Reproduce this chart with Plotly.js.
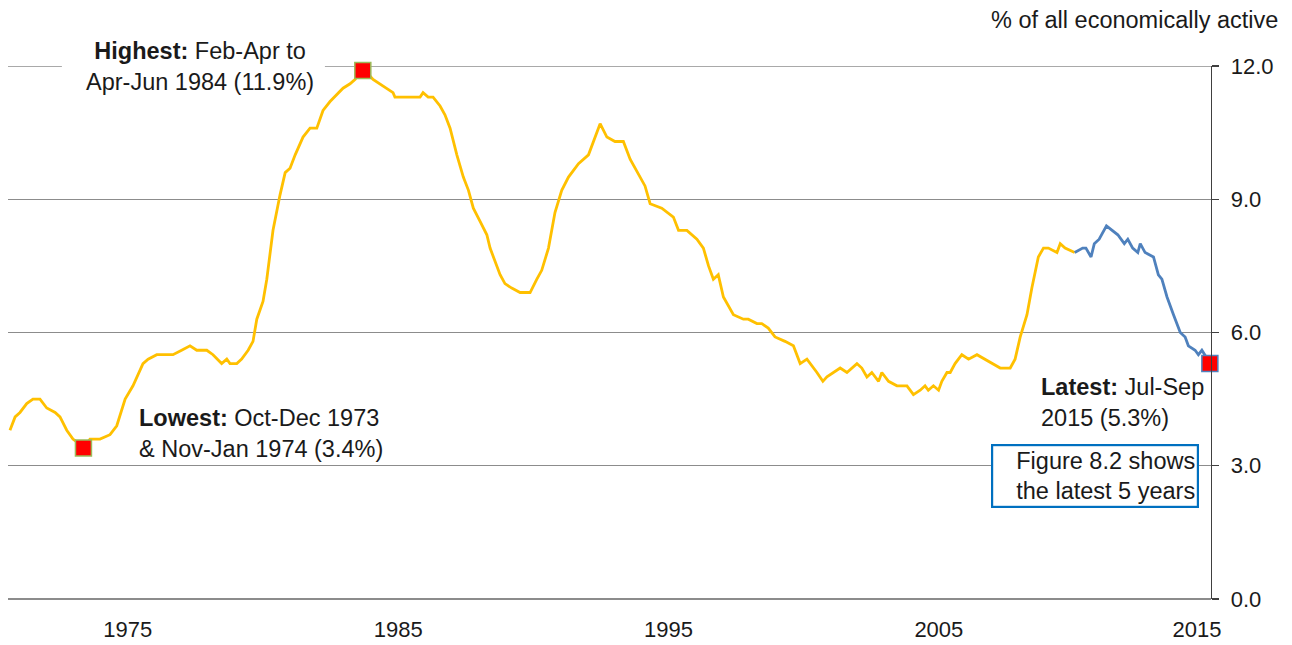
<!DOCTYPE html>
<html>
<head>
<meta charset="utf-8">
<script src="https://cdn.plot.ly/plotly-3.0.1.min.js"></script>
<style>
  html, body { margin: 0; padding: 0; background: #ffffff; }
  #chart { width: 1292px; height: 645px; }
</style>
</head>
<body>
<div id="chart"></div>
<script>
// ---- Data ----
// Decimal years (mid-month of the rolling 3-month period)
var histYears = [
  1971.24, 1971.43, 1971.61, 1971.86, 1972.09, 1972.35, 1972.60, 1972.91, 1973.09, 1973.34,
  1973.57, 1973.79, 1973.875, 1973.958, 1974.20, 1974.57, 1974.94, 1975.19, 1975.50, 1975.79,
  1976.16, 1976.35, 1976.67, 1977.27, 1977.59, 1977.90, 1978.15, 1978.52, 1978.75, 1979.07,
  1979.26, 1979.38, 1979.63, 1979.81, 1980.05, 1980.23, 1980.37, 1980.60, 1980.74, 1980.97,
  1981.23, 1981.42, 1981.60, 1981.79, 1982.08, 1982.34, 1982.59, 1982.82, 1983.08, 1983.38,
  1983.56, 1983.82, 1984.01, 1984.208, 1984.292, 1984.375, 1984.67, 1984.93, 1985.18, 1985.41,
  1985.48, 1986.41, 1986.52, 1986.71, 1986.89, 1987.15, 1987.33, 1987.52, 1987.77, 1988.01,
  1988.20, 1988.38, 1988.63, 1988.88, 1989.00, 1989.37, 1989.55, 1989.80, 1990.11, 1990.48,
  1990.73, 1990.91, 1991.16, 1991.40, 1991.65, 1991.90, 1992.27, 1992.64, 1993.07, 1993.32,
  1993.62, 1993.93, 1994.18, 1994.55, 1994.73, 1994.92, 1995.35, 1995.78, 1995.97, 1996.28,
  1996.65, 1996.89, 1997.08, 1997.26, 1997.44, 1997.63, 1998.00, 1998.37, 1998.55, 1998.87,
  1999.05, 1999.29, 1999.54, 1999.91, 2000.22, 2000.47, 2000.72, 2001.09, 2001.31, 2001.46,
  2001.70, 2001.95, 2002.20, 2002.57, 2002.75, 2002.94, 2003.12, 2003.37, 2003.49, 2003.74,
  2004.05, 2004.42, 2004.66, 2004.91, 2005.09, 2005.21, 2005.40, 2005.59, 2005.71, 2005.90,
  2006.02, 2006.20, 2006.45, 2006.70, 2007.01, 2007.31, 2007.62, 2007.87, 2008.05, 2008.24,
  2008.42, 2008.61, 2008.86, 2009.04, 2009.28, 2009.47, 2009.65, 2009.97, 2010.09, 2010.27,
  2010.625
];
var histRate = [
  3.8, 4.1, 4.2, 4.4, 4.5, 4.5, 4.3, 4.2, 4.1, 3.8,
  3.6, 3.5, 3.4, 3.4, 3.6, 3.6, 3.7, 3.9, 4.5, 4.8,
  5.3, 5.4, 5.5, 5.5, 5.6, 5.7, 5.6, 5.6, 5.5, 5.3,
  5.4, 5.3, 5.3, 5.4, 5.6, 5.8, 6.3, 6.7, 7.2, 8.3,
  9.1, 9.6, 9.7, 10.0, 10.4, 10.6, 10.6, 11.0, 11.2, 11.4,
  11.5, 11.6, 11.7, 11.9, 11.9, 11.9, 11.7, 11.6, 11.5, 11.4,
  11.3, 11.3, 11.4, 11.3, 11.3, 11.1, 10.9, 10.6, 10.0, 9.5,
  9.2, 8.8, 8.5, 8.2, 7.9, 7.3, 7.1, 7.0, 6.9, 6.9,
  7.2, 7.4, 7.9, 8.7, 9.2, 9.5, 9.8, 10.0, 10.7, 10.4,
  10.3, 10.3, 9.9, 9.5, 9.3, 8.9, 8.8, 8.6, 8.3, 8.3,
  8.1, 7.9, 7.5, 7.2, 7.3, 6.8, 6.4, 6.3, 6.3, 6.2,
  6.2, 6.1, 5.9, 5.8, 5.7, 5.3, 5.4, 5.1, 4.9, 5.0,
  5.1, 5.2, 5.1, 5.3, 5.2, 5.0, 5.1, 4.9, 5.1, 4.9,
  4.8, 4.8, 4.6, 4.7, 4.8, 4.7, 4.8, 4.7, 4.9, 5.1,
  5.1, 5.3, 5.5, 5.4, 5.5, 5.4, 5.3, 5.2, 5.2, 5.2,
  5.4, 5.9, 6.4, 7.0, 7.7, 7.9, 7.9, 7.8, 8.0, 7.9,
  7.8
];
var recentYears = [
  2010.625, 2010.92, 2011.04, 2011.23, 2011.35, 2011.53, 2011.80, 2012.03, 2012.22, 2012.46,
  2012.59, 2012.77, 2012.96, 2013.05, 2013.23, 2013.54, 2013.72, 2013.85, 2014.04, 2014.28,
  2014.53, 2014.71, 2014.83, 2015.08, 2015.20, 2015.33, 2015.45, 2015.54, 2015.625
];
var recentRate = [
  7.8, 7.9, 7.9, 7.7, 8.0, 8.1, 8.4, 8.3, 8.2, 8.0,
  8.1, 7.9, 7.8, 8.0, 7.8, 7.7, 7.3, 7.2, 6.8, 6.4,
  6.0, 5.9, 5.7, 5.6, 5.5, 5.6, 5.5, 5.4, 5.3
];
// Highlighted points: lowest, highest, latest
var pointYears = [1973.958, 1984.292, 2015.625];
var pointRate = [3.4, 11.9, 5.3];

var tickYears = [1975.6, 1985.6, 1995.6, 2005.6, 2015.15];
var tickLabels = ['1975', '1985', '1995', '2005', '2015'];
var yTicks = [0, 3, 6, 9, 12];
var yMax = 12;

var FONT = 'Liberation Sans, Arial, sans-serif';
var TXT = '#1a1a1a';
var GRID = '#8c8c8c';
var ANN = 23.5;

var traces = [
  { x: histYears, y: histRate, type: 'scatter', mode: 'lines',
    line: { color: '#FFC000', width: 2.8 }, hoverinfo: 'skip' },
  { x: recentYears, y: recentRate, type: 'scatter', mode: 'lines',
    line: { color: '#4F81BD', width: 2.8 }, hoverinfo: 'skip' },
  { x: pointYears, y: pointRate, type: 'scatter', mode: 'markers', cliponaxis: false,
    marker: { symbol: 'square', size: 16, color: '#FF0000',
      line: { color: ['#9BBB59', '#9BBB59', '#4F81BD'], width: 1.5 } }, hoverinfo: 'skip' }
];

var layout = {
  width: 1292, height: 645,
  margin: { l: 8, r: 81, t: 66, b: 46 },
  paper_bgcolor: '#ffffff', plot_bgcolor: '#ffffff',
  showlegend: false,
  font: { family: FONT, size: 22, color: TXT },
  xaxis: {
    range: [1971.167, 2015.667], showgrid: false, zeroline: false, showline: false,
    ticks: '', tickmode: 'array', tickvals: tickYears, ticktext: tickLabels,
    ticklabelstandoff: 15,
    tickfont: { family: FONT, size: 22, color: TXT }
  },
  yaxis: {
    side: 'right', range: [0, yMax], tickmode: 'array', tickvals: yTicks, tickformat: '.1f',
    showgrid: true, gridcolor: GRID, gridwidth: 1.3,
    zeroline: true, zerolinecolor: GRID, zerolinewidth: 1.3,
    showline: true, linecolor: '#404040', linewidth: 1.3,
    ticks: 'outside', ticklen: 7, tickcolor: '#404040', tickwidth: 1.3,
    ticklabelstandoff: 7,
    tickfont: { family: FONT, size: 22, color: TXT }
  },
  shapes: [
    // top gridline (at the end of the range)
    { type: 'line', xref: 'paper', yref: 'y', layer: 'below',
      x0: 0, x1: 1, y0: yMax, y1: yMax, line: { color: GRID, width: 1.3 } },
    // white gap behind the "Highest" label
    { type: 'rect', xref: 'x', yref: 'y', layer: 'between',
      x0: 1973.16, x1: 1982.89, y0: 11.85, y1: 12.15,
      fillcolor: '#ffffff', line: { width: 0 } }
  ],
  annotations: [
    { xref: 'paper', yref: 'paper', x: 1.0574, y: 1.0865, xanchor: 'right', yanchor: 'middle',
      text: '% of all economically active', showarrow: false,
      font: { family: FONT, size: ANN, color: TXT } },
    { xref: 'x', yref: 'y', x: 1978.27, y: 11.98, xanchor: 'center', yanchor: 'middle',
      align: 'center', showarrow: false,
      text: '<b>Highest:</b> Feb-Apr to<br>Apr-Jun 1984 (11.9%)',
      font: { family: FONT, size: ANN, color: TXT } },
    { xref: 'x', yref: 'y', x: 1975.95, y: 3.72, xanchor: 'left', yanchor: 'middle',
      align: 'left', showarrow: false,
      text: '<b>Lowest:</b> Oct-Dec 1973<br>&amp; Nov-Jan 1974 (3.4%)',
      font: { family: FONT, size: ANN, color: TXT } },
    { xref: 'x', yref: 'y', x: 2009.31, y: 4.42, xanchor: 'left', yanchor: 'middle',
      align: 'left', showarrow: false,
      text: '<b>Latest:</b> Jul-Sep<br>2015 (5.3%)',
      font: { family: FONT, size: ANN, color: TXT } },
    { xref: 'x', yref: 'y', x: 2011.38, y: 2.76, xanchor: 'center', yanchor: 'middle',
      align: 'right', showarrow: false, width: 200, height: 56,
      bgcolor: '#ffffff', bordercolor: '#0070C0', borderwidth: 2.2, borderpad: 2,
      text: 'Figure 8.2 shows<br>the latest 5 years',
      font: { family: FONT, size: ANN, color: TXT } }
  ]
};

Plotly.newPlot('chart', traces, layout, { staticPlot: true, displayModeBar: false });
</script>
</body>
</html>
